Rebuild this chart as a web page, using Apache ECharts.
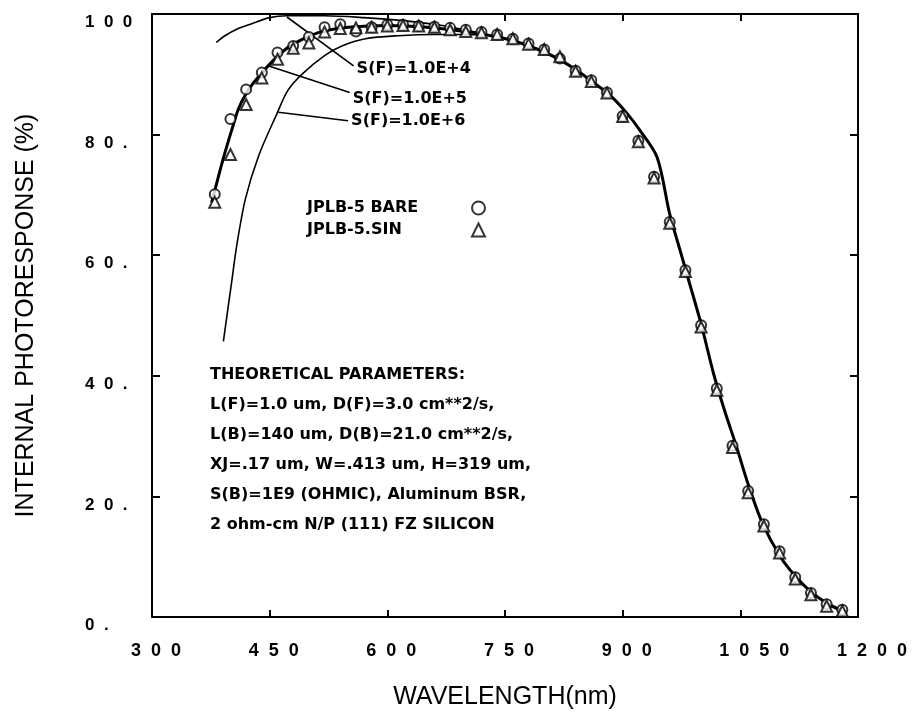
<!DOCTYPE html>
<html>
<head>
<meta charset="utf-8">
<title>Internal photoresponse</title>
<script src="https://cdn.jsdelivr.net/npm/echarts@6/dist/echarts.min.js"></script>
<style>
  html, body { margin: 0; padding: 0; background: #fff; }
  #chart { width: 916px; height: 718px; }
</style>
</head>
<body>
<div id="chart"></div>
<script>
// measured points, 20 nm steps
var wavelengthNm = [380, 400, 420, 440, 460, 480, 500, 520, 540, 560, 580, 600, 620, 640, 660, 680, 700, 720, 740, 760,
    780, 800, 820, 840, 860, 880, 900, 920, 940, 960, 980, 1000, 1020, 1040, 1060, 1080, 1100, 1120, 1140, 1160, 1180];
var bareResp = [70.1, 82.6, 87.5, 90.3, 93.6, 94.7, 96.2, 97.8, 98.3, 97.1, 97.8, 98.2, 98.2, 98.0, 97.9, 97.7, 97.4, 97.0, 96.6, 95.9,
    95.1, 94.1, 92.6, 90.6, 89.0, 87.0, 83.1, 79.0, 73.0, 65.5, 57.5, 48.4, 37.9, 28.4, 20.9, 15.4, 10.9, 6.6, 4.0, 2.1, 1.2];
var sinResp = [68.8, 76.7, 85.0, 89.4, 92.5, 94.3, 95.2, 97.0, 97.6, 97.7, 97.8, 98.0, 98.1, 98.0, 97.8, 97.4, 97.1, 96.9, 96.6, 95.9,
    95.0, 94.1, 92.9, 90.5, 88.8, 86.9, 83.0, 78.8, 72.8, 65.3, 57.3, 48.1, 37.6, 28.1, 20.6, 15.1, 10.6, 6.3, 3.7, 1.8, 1.0];

// theory curves
var fitE4Wl = [382, 393, 410, 427, 450, 472, 520, 570, 620, 670, 720];
var fitE4Val = [95.3, 96.4, 97.6, 98.4, 99.4, 99.7, 99.7, 99.4, 98.9, 98.1, 96.8];
var fitE5Wl = [376, 385, 393, 402, 410, 420, 430, 448, 465, 480, 500, 520, 550, 600, 650, 700, 720, 760, 800, 820,
    840, 860, 884, 905, 922, 944, 960, 973, 982, 1000, 1016, 1030, 1045, 1060, 1078, 1101, 1120, 1139, 1160, 1177];
var fitE5Val = [68.7, 73.2, 77.0, 80.9, 84.2, 86.8, 88.7, 91.4, 93.6, 95.0, 96.3, 97.2, 97.8, 98.1, 97.8, 97.1, 96.7, 95.6, 93.7, 92.4,
    90.8, 88.9, 86.5, 83.6, 80.7, 76.2, 66.8, 60.9, 56.8, 48.6, 40.3, 34.2, 28.3, 22.0, 15.6, 10.0, 6.8, 4.3, 2.3, 1.2];
var fitE6Wl = [391, 402, 408, 419, 436, 459, 473, 491, 520, 542, 572, 614, 660, 700, 725];
var fitE6Val = [45.7, 56.0, 61.6, 69.3, 76.5, 83.4, 87.3, 90.0, 93.1, 94.7, 95.9, 96.4, 96.6, 96.6, 96.5];

// leader lines from each curve to its label
var curveLabels = ['S(F)=1.0E+4', 'S(F)=1.0E+5', 'S(F)=1.0E+6'];
var leaderE4 = [[472, 99.5], [557, 91.4]];
var leaderE5 = [[448, 91.4], [552, 87.0]];
var leaderE6 = [[461, 83.7], [550, 82.3]];

var xTicks = [300, 450, 600, 750, 900, 1050, 1200];
var xTickLabels = ['3  0  0', '4  5  0', '6  0  0', '7  5  0', '9  0  0', '1  0  5  0', '1  2  0  0'];
var yTicks = [0, 20, 40, 60, 80, 100];
var yTickLabels = ['0  .', '2  0  .', '4  0  .', '6  0  .', '8  0  .', '1  0  0'];

var paramLines = [
    'THEORETICAL PARAMETERS:',
    'L(F)=1.0 um, D(F)=3.0 cm**2/s,',
    'L(B)=140 um, D(B)=21.0 cm**2/s,',
    'XJ=.17 um, W=.413 um, H=319 um,',
    'S(B)=1E9 (OHMIC), Aluminum BSR,',
    '2 ohm-cm N/P (111) FZ SILICON'
];

(function () {
    var chart = echarts.init(document.getElementById('chart'));

    function zip(xs, ys) {
        return xs.map(function (x, i) { return [x, ys[i]]; });
    }

    var black = '#000';
    var boldFont = 'DejaVu Sans';

    function frameX(pos, showLabel) {
        return {
            type: 'value', position: pos, min: 300, max: 1200, interval: 150,
            name: showLabel ? 'WAVELENGTH(nm)' : '',
            nameLocation: 'middle', nameGap: 68,
            nameTextStyle: { fontFamily: 'Liberation Sans', fontSize: 25, color: black },
            axisLine: { show: true, onZero: false, lineStyle: { color: black, width: 2 } },
            axisTick: { show: true, inside: true, length: 7, lineStyle: { color: black, width: 2 } },
            axisLabel: {
                show: showLabel, align: 'left', padding: [0, 0, 0, -21], margin: 25,
                fontFamily: 'Liberation Sans', fontWeight: 'bold', fontSize: 18, color: black,
                formatter: function (v) { return xTickLabels[xTicks.indexOf(v)]; }
            },
            splitLine: { show: false }
        };
    }

    function frameY(pos, showLabel) {
        return {
            type: 'value', position: pos, min: 0, max: 100, interval: 20,
            name: showLabel ? 'INTERNAL PHOTORESPONSE (%)' : '',
            nameLocation: 'middle', nameGap: 113,
            nameTextStyle: { fontFamily: 'Liberation Sans', fontSize: 25, color: black },
            axisLine: { show: true, onZero: false, lineStyle: { color: black, width: 2 } },
            axisTick: { show: true, inside: true, length: 8, lineStyle: { color: black, width: 2 } },
            axisLabel: {
                show: showLabel, align: 'left', verticalAlign: 'top', margin: 67,
                fontFamily: 'Liberation Sans', fontWeight: 'bold', fontSize: 17, color: black,
                formatter: function (v) { return yTickLabels[yTicks.indexOf(v)]; }
            },
            splitLine: { show: false }
        };
    }

    function curve(name, data, width) {
        return {
            name: name, type: 'line', data: data, smooth: 0.3, showSymbol: false, silent: true,
            lineStyle: { color: black, width: width }, z: 2
        };
    }

    function leader(text, data, dy) {
        return {
            name: text, type: 'line', data: data, symbol: 'none', silent: true,
            lineStyle: { color: black, width: 1.6 }, z: 2,
            endLabel: {
                show: true, formatter: text, distance: 3, offset: [0, dy],
                fontFamily: boldFont, fontWeight: 'bold', fontSize: 16, color: black
            }
        };
    }

    var option = {
        animation: false,
        backgroundColor: '#fff',
        grid: { left: 152, right: 58, top: 14, bottom: 101 },
        xAxis: [frameX('bottom', true), frameX('top', false)],
        yAxis: [frameY('left', true), frameY('right', false)],
        legend: {
            data: ['JPLB-5 BARE', 'JPLB-5.SIN'],
            orient: 'vertical', left: 302, top: 194, align: 'right',
            itemWidth: 13, itemHeight: 13, itemGap: 4,
            formatter: function (n) { return '{n|' + n + '}'; },
            textStyle: {
                lineHeight: 18,
                rich: { n: { width: 160, align: 'left', fontFamily: boldFont, fontWeight: 'bold', fontSize: 16, color: black } }
            }
        },
        graphic: [{
            type: 'text', left: 210, top: 360, silent: true,
            style: {
                text: paramLines.join('\n'), fill: black, lineHeight: 30,
                fontFamily: boldFont, fontWeight: 'bold', fontSize: 16
            }
        }],
        series: [
            curve('E4', zip(fitE4Wl, fitE4Val), 1.6),
            curve('E5', zip(fitE5Wl, fitE5Val), 3),
            curve('E6', zip(fitE6Wl, fitE6Val), 1.6),
            leader(curveLabels[0], leaderE4, 3),
            leader(curveLabels[1], leaderE5, 6),
            leader(curveLabels[2], leaderE6, 0),
            {
                name: 'JPLB-5 BARE', type: 'scatter', data: zip(wavelengthNm, bareResp),
                symbol: 'emptyCircle', symbolSize: 10, z: 5,
                itemStyle: { color: black, borderColor: black, borderWidth: 2 }
            },
            {
                name: 'JPLB-5.SIN', type: 'scatter', data: zip(wavelengthNm, sinResp),
                symbol: 'emptyTriangle', symbolSize: 11, z: 5,
                itemStyle: { color: black, borderColor: black, borderWidth: 2 }
            }
        ]
    };

    chart.setOption(option);
})();
</script>
</body>
</html>
